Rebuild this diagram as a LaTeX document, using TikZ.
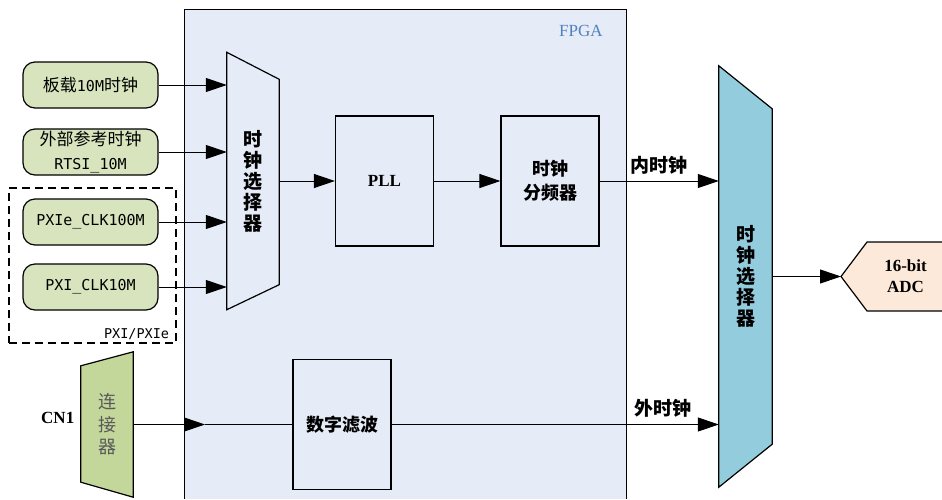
\documentclass[tikz,border=0pt]{standalone}
\usepackage{fontspec}
\setmainfont{Liberation Serif}
\newfontfamily\cjk{Noto Sans CJK SC}
\newfontfamily\latinmono{DejaVu Sans Mono}
\usetikzlibrary{arrows.meta,positioning,backgrounds}

\definecolor{fpgafill}{HTML}{E6ECF7}
\definecolor{srcgreen}{HTML}{D7E4BD}
\definecolor{conngreen}{HTML}{C4D79B}
\definecolor{conntext}{HTML}{595959}
\definecolor{muxcyan}{HTML}{93CDDD}
\definecolor{adcpeach}{HTML}{FDE9D9}
\definecolor{fpgatext}{HTML}{4F81BD}

\newcommand{\lat}[1]{{\latinmono\fontsize{15}{24}\selectfont #1}}

\begin{document}
\begin{tikzpicture}[x=1pt, y=-1pt,
    srcbox/.style={rectangle, rounded corners=12pt, draw, line width=1.2pt, fill=srcgreen, minimum width=135pt, minimum height=46pt, inner sep=0pt, align=center, font=\cjk\fontsize{17}{24}\selectfont},
    blk/.style={rectangle, draw, line width=1.2pt, minimum width=98pt, minimum height=130pt, inner sep=0pt, align=center, font=\cjk\bfseries\fontsize{18}{24}\selectfont},
    muxtxt/.style={rectangle, inner sep=0pt, minimum width=52pt, align=center, font=\cjk\bfseries\fontsize{19}{21}\selectfont},
    serifbold/.style={font=\bfseries\fontsize{17}{21}\selectfont},
    arrow/.style={-{Triangle[length=21pt,width=14pt]}, line width=1pt},
    lbl/.style={font=\cjk\bfseries\fontsize{19}{21}\selectfont},
    shp/.style={draw, line width=1.2pt},
]
\useasboundingbox (0,0) rectangle (942,499);

% FPGA area
\begin{scope}[on background layer]
\node[rectangle, fill=fpgafill, minimum width=441pt, minimum height=489pt, inner sep=0pt] (fpga) at (405.5,254.5) {};
\draw[shp] (fpga.south west) |- (fpga.north east) -- (fpga.south east);
\end{scope}
\node[anchor=north east, text=fpgatext, font=\fontsize{17}{20}\selectfont] (fpgalbl) at ([xshift=-20pt,yshift=-12pt]fpga.north east) {FPGA};

% clock sources
\node[rectangle, draw, dash pattern=on 8pt off 5pt, line width=1.2pt, minimum width=167pt, minimum height=155pt, inner sep=0pt] (pxi) at (92.5,265.5) {};
\node[anchor=south east, font=\latinmono\fontsize{13.5}{16}\selectfont] (pxilbl) at ([xshift=-4pt]pxi.south east) {PXI/PXIe};

\node[srcbox] (onboard) at (90.5,85) {板载\lat{10M}时钟};
\node[srcbox] (rtsi) at (90.5,152) {外部参考时钟\\\lat{RTSI\_10M}};
\node[srcbox] (clk100) at (90.5,222) {\lat{PXIe\_CLK100M}};
\node[srcbox] (clk10) at (90.5,287) {\lat{PXI\_CLK10M}};

% input selector
\node[muxtxt, minimum height=257pt] (mux1) at (253,181) {时\\钟\\选\\择\\器};
\draw[shp] (mux1.north west) -- ([yshift=-27pt]mux1.north east) -- ([yshift=25pt]mux1.south east) -- (mux1.south west) -- cycle;

\node[blk, serifbold] (pll) at (384.5,181) {PLL};
\node[blk] (div) at (550,181) {时钟\\分频器};
\node[blk] (filt) at (342,424.5) {数字滤波};

% output selector
\node[muxtxt, minimum width=53pt, minimum height=421pt] (mux2) at (745.5,276.5) {时\\钟\\选\\择\\器};
\begin{scope}[on background layer]
\draw[shp, fill=muxcyan] (mux2.north west) -- ([yshift=-43pt]mux2.north east) -- ([yshift=43pt]mux2.south east) -- (mux2.south west) -- cycle;
\end{scope}

% connector
\node[muxtxt, font=\cjk\fontsize{18}{22.5}\selectfont, text=conntext, minimum height=145pt] (conn) at (107,424.5) {连\\接\\器};
\begin{scope}[on background layer]
\draw[shp, fill=conngreen] ([yshift=-14pt]conn.north west) -- (conn.north east) -- (conn.south east) -- ([yshift=15pt]conn.south west) -- cycle;
\end{scope}
\node[left=3pt of conn, yshift=7pt, serifbold] (cn1) {CN1};

% ADC
\coordinate (adctip) at (841,276.5);
\node[serifbold, align=center] (adc) at (905.5,276) {16-bit\\ADC};
\begin{scope}[on background layer]
\fill[adcpeach] (adctip) -- (867,242) -- (942,242) -- (942,311) -- (867,311) -- cycle;
\draw[shp] (942,242) -- (867,242) -- (adctip) -- (867,311) -- (942,311);
\end{scope}

% connections
\foreach \src in {onboard, rtsi, clk100, clk10}
  \draw[arrow] (\src.east) -- (\src.east -| mux1.west);
\draw[arrow] (mux1.east) -- (pll.west);
\draw[arrow] (pll) -- (div);
\draw[arrow] (div.east) -- (div.east -| mux2.west) node[lbl, midway, above=3pt] {内时钟};
\coordinate (cnin) at (205,424.5);
\draw[arrow] (conn.east) -- (cnin);
\draw[line width=1pt] (cnin) -- (filt.west);
\draw[arrow] (filt.east) -- (filt.east -| mux2.west) node[lbl, pos=0.83, above=3pt] {外时钟};
\draw[arrow] (mux2.east) -- (adctip);
\end{tikzpicture}
\end{document}
